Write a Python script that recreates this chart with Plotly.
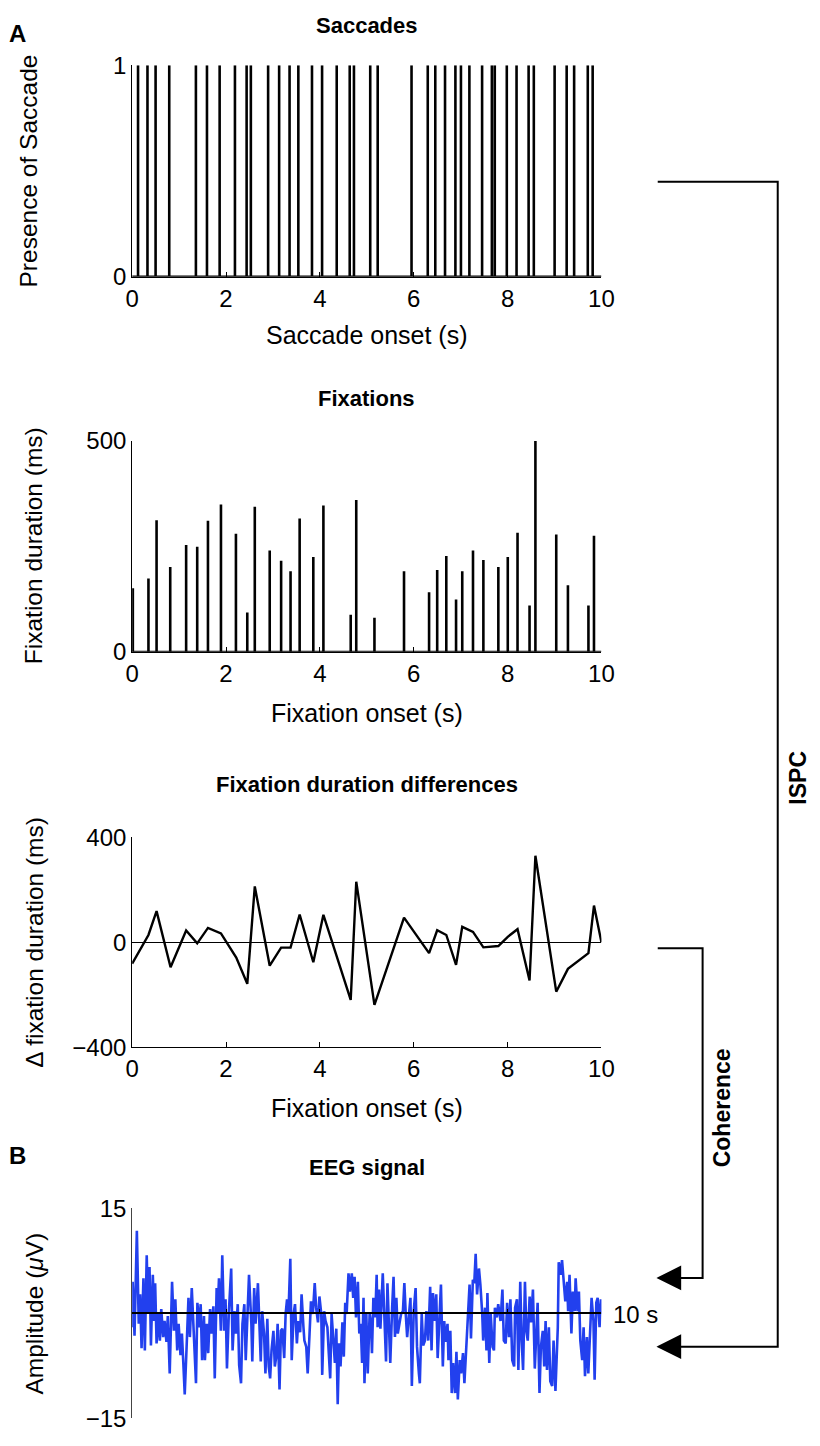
import plotly.graph_objects as go

W, H = 820, 1446

# ---------------- data ----------------
saccade_onsets = [0.125, 0.326, 0.499, 0.790, 1.358, 1.594, 1.864, 2.190, 2.439, 2.529,
                  2.897, 3.132, 3.354, 3.541, 3.832, 4.047, 4.359, 4.636, 4.726, 5.073,
                  5.232, 5.953, 6.299, 6.459, 6.667, 6.888, 7.006, 7.186, 7.457, 7.665,
                  7.727, 7.983, 8.191, 8.448, 8.559, 9.002, 9.259, 9.418, 9.709, 9.813]

fix_onsets = [0.014, 0.347, 0.520, 0.811, 1.150, 1.386, 1.615, 1.892, 2.211, 2.453,
              2.613, 2.931, 3.174, 3.375, 3.569, 3.860, 4.075, 4.657, 4.775, 5.163,
              5.793, 6.327, 6.500, 6.694, 6.902, 7.034, 7.263, 7.484, 7.803, 8.004,
              8.212, 8.468, 8.593, 9.037, 9.286, 9.723, 9.841]
fix_durations = [151, 174, 312, 201, 253, 249, 311, 349, 280, 93,
                 344, 240, 216, 191, 316, 225, 347, 88, 360, 81,
                 191, 141, 194, 227, 124, 191, 240, 218, 201, 225,
                 282, 110, 500, 278, 158, 110, 275]

diff_t = [0.0, 0.17, 0.347, 0.520, 0.818, 1.150, 1.386, 1.615, 1.892, 2.218,
          2.453, 2.613, 2.931, 3.174, 3.375, 3.569, 3.860, 4.075, 4.657, 4.775,
          5.163, 5.793, 6.327, 6.500, 6.694, 6.902, 7.034, 7.263, 7.484, 7.803,
          8.004, 8.212, 8.468, 8.593, 9.037, 9.286, 9.723, 9.841, 10.0]
diff_v = [-81, -29, 28, 119, -95, 45, -4, 55, 34, -58,
          -158, 213, -89, -20, -20, 106, -76, 105, -219, 231,
          -238, 94, -41, 46, 28, -86, 59, 40, -19, -14,
          21, 50, -145, 330, -188, -101, -41, 140, 0]

eeg_t = [0.00, 0.01, 0.05, 0.10, 0.14, 0.17, 0.20, 0.24, 0.27, 0.31, 0.34, 0.37, 0.40, 0.44,
         0.47, 0.49, 0.52, 0.56, 0.59, 0.62, 0.66, 0.69, 0.73, 0.76, 0.80, 0.85, 0.89, 0.92,
         0.96, 0.99, 1.03, 1.06, 1.09, 1.12, 1.16, 1.20, 1.23, 1.27, 1.32, 1.36, 1.39, 1.43,
         1.46, 1.49, 1.53, 1.55, 1.59, 1.62, 1.66, 1.69, 1.73, 1.76, 1.80, 1.82, 1.85, 1.89,
         1.92, 1.96, 1.99, 2.02, 2.06, 2.11, 2.14, 2.18, 2.21, 2.25, 2.28, 2.32, 2.35, 2.39,
         2.42, 2.45, 2.49, 2.54, 2.56, 2.60, 2.63, 2.68, 2.72, 2.74, 2.77, 2.81, 2.84, 2.88,
         2.91, 2.94, 2.97, 3.01, 3.04, 3.07, 3.10, 3.14, 3.17, 3.20, 3.24, 3.27, 3.30, 3.33,
         3.37, 3.40, 3.44, 3.47, 3.51, 3.54, 3.58, 3.61, 3.65, 3.67, 3.71, 3.74, 3.78, 3.81,
         3.85, 3.89, 3.92, 3.96, 3.99, 4.03, 4.05, 4.09, 4.12, 4.16, 4.19, 4.22, 4.25, 4.28,
         4.32, 4.35, 4.38, 4.41, 4.44, 4.48, 4.51, 4.54, 4.57, 4.61, 4.64, 4.68, 4.71, 4.74,
         4.77, 4.81, 4.84, 4.87, 4.90, 4.93, 4.95, 4.99, 5.02, 5.06, 5.09, 5.11, 5.14, 5.18,
         5.21, 5.23, 5.26, 5.29, 5.34, 5.37, 5.41, 5.44, 5.48, 5.50, 5.54, 5.57, 5.60, 5.63,
         5.66, 5.70, 5.73, 5.77, 5.80, 5.83, 5.86, 5.90, 5.93, 5.96, 6.00, 6.04, 6.07, 6.11,
         6.13, 6.17, 6.20, 6.24, 6.27, 6.31, 6.35, 6.38, 6.41, 6.45, 6.48, 6.51, 6.55, 6.58,
         6.62, 6.65, 6.68, 6.72, 6.74, 6.78, 6.81, 6.84, 6.88, 6.91, 6.94, 6.98, 7.01, 7.05,
         7.08, 7.12, 7.15, 7.19, 7.22, 7.26, 7.29, 7.32, 7.35, 7.39, 7.42, 7.46, 7.48, 7.52,
         7.55, 7.57, 7.61, 7.64, 7.68, 7.71, 7.73, 7.77, 7.80, 7.85, 7.89, 7.92, 7.96, 7.99,
         8.03, 8.06, 8.10, 8.14, 8.16, 8.20, 8.23, 8.27, 8.30, 8.33, 8.37, 8.40, 8.43, 8.47,
         8.50, 8.54, 8.58, 8.61, 8.64, 8.68, 8.71, 8.75, 8.78, 8.81, 8.84, 8.88, 8.91, 8.95,
         8.98, 9.02, 9.07, 9.09, 9.13, 9.16, 9.20, 9.23, 9.27, 9.29, 9.32, 9.36, 9.39, 9.43,
         9.45, 9.49, 9.52, 9.55, 9.59, 9.62, 9.65, 9.69, 9.72, 9.76, 9.79, 9.83, 9.855, 9.89,
         9.92, 9.96, 9.99, 10.0]
eeg_v = [-2.0, 4.5, -3.2, 11.8, -1.5, 2.7, -5.0, 5.0, -5.3, 8.3, -0.1, 6.6, -4.6, 5.5,
         -1.1, 4.3, -4.3, -0.1, -3.9, 0.6, -3.4, -1.1, -4.1, -0.4, -8.6, 4.5, -2.5, 2.0,
         -5.3, -1.5, -6.0, -2.9, -7.1, -11.6, -4.8, 2.2, -3.4, 3.6, -3.9, -10.0, 1.5, -2.0,
         1.3, -6.7, -0.4, -6.7, -1.5, -5.7, 0.6, -2.9, 1.0, -9.3, 3.6, -0.1, 5.0, -2.5,
         8.3, -2.5, 2.0, -7.9, 0.1, 6.4, -5.3, 0.3, -2.9, 1.3, -7.4, -10.0, -1.5, 1.3,
         -6.7, -0.1, 5.5, -1.5, -6.9, 3.6, -1.5, 4.3, -2.0, -6.9, 0.3, -2.9, -8.6, -0.8,
         -7.6, -9.3, -5.3, -2.5, -7.6, -6.2, -1.5, -10.9, -2.5, -2.2, -6.4, -0.1, 2.0, -0.1,
         7.8, -6.7, -0.1, 1.3, -4.3, -1.1, -2.7, 2.7, -2.0, -3.9, -4.8, -8.6, -2.9, 1.7,
         -0.1, 4.3, 0.8, -1.3, 2.4, -0.1, -8.8, 0.3, -1.1, -2.0, -5.7, -9.3, -0.1, -3.4,
         -7.1, -2.2, -13.0, -4.3, -7.6, -1.3, -6.2, 1.5, -0.1, 5.7, 3.1, 5.7, 2.2, 5.2,
         -0.6, 4.5, -2.9, -1.5, -7.1, 2.2, -10.0, -0.1, -8.6, -0.1, -1.5, -5.7, 2.2, -0.6,
         5.5, -2.0, 3.4, -2.2, 5.7, 0.3, -6.9, 4.3, -2.5, -7.1, 0.8, 5.2, -3.4, 2.2,
         -2.9, -1.5, -0.1, 0.3, 4.3, -0.1, -3.4, -0.1, 2.2, -10.4, 0.3, 3.6, -4.8, -8.6,
         -10.0, -0.1, -4.6, -3.9, 0.3, -3.9, 3.8, -5.3, 2.9, -1.1, 2.7, -6.4, 0.3, 4.1,
         -7.6, -1.1, -4.1, -1.5, -6.7, -2.5, -11.4, -7.1, -11.4, -5.5, -12.3, -6.7, -8.6, -5.7,
         -10.0, -4.8, -1.1, 4.1, -3.6, 4.8, 4.3, 8.5, 2.7, 6.4, 4.1, -0.1, -3.9, 0.8,
         -5.3, 2.9, -7.1, -0.1, -4.8, -5.3, 0.8, -0.6, 1.3, -1.1, 3.4, -3.9, -4.3, 1.5,
         -3.4, 2.0, -6.7, -7.6, 0.8, 2.0, -8.1, 4.5, -3.9, -8.1, 4.5, -2.5, -3.9, 2.4,
         -1.3, 3.4, -7.9, -2.5, 1.5, -11.4, -4.8, -2.5, -7.6, -1.1, -8.1, -2.0, -9.7, -10.4,
         -3.9, -11.1, -2.0, 7.3, 5.5, 7.6, 3.6, 1.7, 4.5, 0.3, 5.5, -2.9, 3.1, 0.3,
         5.0, 0.3, 3.1, -3.9, -6.7, -2.0, -9.0, -3.4, -8.6, -2.0, 2.2, -1.1, -9.5, 1.5,
         2.2, -2.0, 2.0, -0.1]

x_ticks = [0, 2, 4, 6, 8, 10]

# ---------------- layout helpers ----------------
FONT = "Liberation Sans, Arial, Helvetica, sans-serif"
TICK = 24
XLAB = 25
YLAB = 24.5
TTL = 22


def px(x, y):
    return x / W, 1 - y / H


X0, X1 = 128.3, 609.3
panels = [(52.3, 267.7), (435.0, 650.0), (839.0, 1053.0), (1217.0, 1431.0)]
xdom = [X0 / W, X1 / W]
ydoms = [[1 - b / H, 1 - t / H] for t, b in panels]

fig = go.Figure()

# Saccades: binary signal
sx, sy = [0], [0]
for t in saccade_onsets:
    sx += [t, t, t]
    sy += [0, 1, 0]
sx.append(x_ticks[-1])
sy.append(0)
fig.add_trace(go.Scatter(x=sx, y=sy, mode="lines", line=dict(color="black", width=2.6),
                         xaxis="x", yaxis="y", hoverinfo="skip"))

# Fixations: stems
fx, fy = [], []
for t, d in zip(fix_onsets, fix_durations):
    fx += [t, t, None]
    fy += [0, d, None]
fig.add_trace(go.Scatter(x=fx, y=fy, mode="lines", line=dict(color="black", width=2.6),
                         xaxis="x2", yaxis="y2", hoverinfo="skip"))
fig.add_trace(go.Scatter(x=[x_ticks[0], x_ticks[-1]], y=[0, 0], mode="lines",
                         line=dict(color="black", width=2), xaxis="x2", yaxis="y2",
                         hoverinfo="skip"))

# Fixation duration differences
fig.add_trace(go.Scatter(x=diff_t, y=diff_v, mode="lines", line=dict(color="black", width=2.4),
                         xaxis="x3", yaxis="y3", hoverinfo="skip"))

# EEG
fig.add_trace(go.Scatter(x=eeg_t, y=eeg_v, mode="lines", line=dict(color="#2240ee", width=2.6),
                         xaxis="x4", yaxis="y4", hoverinfo="skip"))

axis_common = dict(showgrid=False, zeroline=False, showline=True, linecolor="black",
                   linewidth=1, ticks="inside", ticklen=5, tickcolor="black",
                   tickfont=dict(family=FONT, size=TICK, color="black"))

layout = dict(
    width=W, height=H, margin=dict(l=0, r=0, t=0, b=0),
    plot_bgcolor="white", paper_bgcolor="white", showlegend=False,
    font=dict(family=FONT, color="black"),
)

yranges = [[0, 1], [0, 500], [-400, 400], [-15, 15]]
yticks = [[0, 1], [0, 500], [-400, 0, 400], [-15, 15]]
for i in range(4):
    s = "" if i == 0 else str(i + 1)
    xa = dict(axis_common, domain=xdom, range=[0, 10], tickvals=x_ticks,
              anchor="y" + s)
    ya = dict(axis_common, domain=ydoms[i], range=yranges[i], tickvals=yticks[i],
              anchor="x" + s)
    if i == 2:
        ya["zeroline"] = True
        ya["zerolinecolor"] = "black"
        ya["zerolinewidth"] = 1
    if i == 3:
        xa["anchor"] = "free"
        xa["position"] = (ydoms[3][0] + ydoms[3][1]) / 2
        xa["showticklabels"] = False
        xa["linewidth"] = 1.5
        xa["ticklen"] = 4
        ya["linecolor"] = "#444444"
    layout["xaxis" + s] = xa
    layout["yaxis" + s] = ya

fig.update_layout(**layout)


def ann(text, x, y, size=XLAB, bold=False, angle=0, xanchor="center"):
    ax, ay = px(x, y)
    fig.add_annotation(text=("<b>%s</b>" % text) if bold else text, x=ax, y=ay,
                       xref="paper", yref="paper", showarrow=False, textangle=angle,
                       xanchor=xanchor, yanchor="middle",
                       font=dict(family=FONT, size=size, color="black"))


XC = (X0 + X1) / 2
ann("A", 11, 20, size=24, bold=True)
ann("B", 11, 1163, size=24, bold=True)
ann("Saccades", XC, 12, size=TTL, bold=True)
ann("Fixations", XC, 392, size=TTL, bold=True)
ann("Fixation duration differences", XC, 785, size=TTL, bold=True)
ann("EEG signal", XC, 1175, size=TTL, bold=True)
ann("Saccade onset (s)", XC, 327)
ann("Fixation onset (s)", XC, 712)
ann("Fixation onset (s)", XC, 1115)
ann("Presence of Saccade", 22, 160, size=YLAB, angle=-90)
ann("Fixation duration (ms)", 28, 542, size=YLAB, angle=-90)
ann("Δ fixation duration (ms)", 28, 946, size=YLAB, angle=-90)
ann("Amplitude (<i>μ</i>V)", 28, 1324, size=YLAB, angle=-90)
ann("10 s", 619, 1325, size=TICK, xanchor="left")
ann("Coherence", 733, 1115, size=23, bold=True, angle=-90)
ann("ISPC", 811, 778, size=23, bold=True, angle=-90)


# brackets and arrowheads (paper coordinates)
def path(points, closed=False, fill=None):
    parts = []
    for k, (x, y) in enumerate(points):
        ax, ay = px(x, y)
        parts.append(("M" if k == 0 else "L") + " %.5f %.5f" % (ax, ay))
    d = " ".join(parts) + (" Z" if closed else "")
    fig.add_shape(type="path", path=d, xref="paper", yref="paper",
                  line=dict(color="black", width=2),
                  fillcolor=fill if fill else "rgba(0,0,0,0)")


path([(667, 171), (790, 171), (790, 1358), (688, 1358)])
path([(668, 1358), (690, 1347), (690, 1369)], closed=True, fill="black")
path([(667, 952), (713, 952), (713, 1288), (688, 1288)])
path([(668, 1288), (690, 1277), (690, 1299)], closed=True, fill="black")

fig.write_html(
    "out.html",
    config={"displayModeBar": False},
    post_script=("document.documentElement.style.margin='0';"
                 "document.documentElement.style.overflow='hidden';"
                 "document.body.style.margin='0';document.body.style.padding='0';"
                 "document.body.style.overflow='hidden';"),
)
